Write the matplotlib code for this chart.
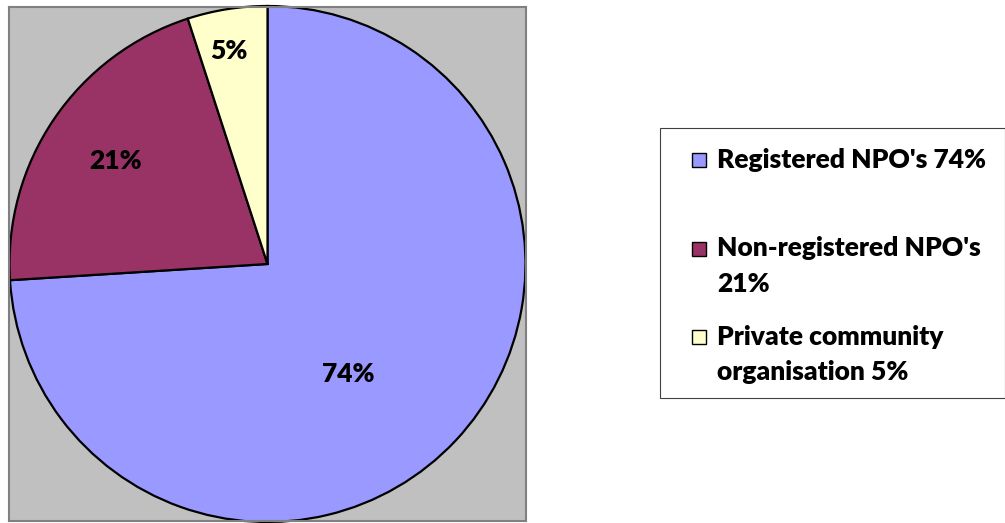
import numpy as np
import matplotlib.pyplot as plt
from matplotlib.patches import Rectangle

# data
categories = ["Registered NPO's", "Non-registered NPO's", "Private community organisation"]
values = [74, 21, 5]
legend_lines = [["Registered NPO's 74%"],
                ["Non-registered NPO's", "21%"],
                ["Private community", "organisation 5%"]]
colors = ["#9999FF", "#993366", "#FFFFCC"]

W, H = 1005, 523
plt.rcParams['font.family'] = ['Lato', 'DejaVu Sans']

fig = plt.figure(figsize=(W / 100, H / 100), dpi=100)

# plot area (grey box) in pixels
left, right, top, bottom = 9, 526, 7, 521
ax = fig.add_axes([left / W, 1 - bottom / H, (right - left) / W, (bottom - top) / H])
ax.set_facecolor("#C0C0C0")

wedges, _ = ax.pie(values, colors=colors, startangle=90, counterclock=False,
                   wedgeprops=dict(edgecolor="black", linewidth=1.6),
                   frame=True)
ax.set_aspect('auto')
r_px = 258
ax.set_xlim(-(right - left) / 2 / r_px, (right - left) / 2 / r_px)
ax.set_ylim(-(bottom - top) / 2 / r_px, (bottom - top) / 2 / r_px)
ax.set_xticks([])
ax.set_yticks([])
for s in ax.spines.values():
    s.set_color("#808080")
    s.set_linewidth(1.5)

# percentage labels inside wedges
label_r = [0.53, 0.71, 0.84]
label_shift = [-10.7, 0, 1.4]
for w, v, r, sh in zip(wedges, values, label_r, label_shift):
    ang = np.deg2rad((w.theta1 + w.theta2) / 2 + sh)
    ax.text(r * np.cos(ang), r * np.sin(ang), f"{v}%", ha='center', va='center',
            fontsize=19, fontweight='heavy', color='black')

# legend drawn by hand
fig.patches.append(Rectangle((660 / W, 1 - 398 / H), 345 / W, 270 / H,
                             transform=fig.transFigure, facecolor='white',
                             edgecolor='#404040', linewidth=0.8))
entry_y = [160, 248.5, 337]
line_step = 35
sq = 14
for lines, c, y in zip(legend_lines, colors, entry_y):
    fig.patches.append(Rectangle((692 / W, 1 - (y + sq / 2) / H), sq / W, sq / H,
                                 transform=fig.transFigure, facecolor=c,
                                 edgecolor='black', linewidth=1.0))
    for i, t in enumerate(lines):
        fig.text(717 / W, 1 - (y + i * line_step) / H, t, ha='left', va='center',
                 fontsize=19, fontweight='heavy', color='black')

fig.savefig("out.png", dpi=100)
